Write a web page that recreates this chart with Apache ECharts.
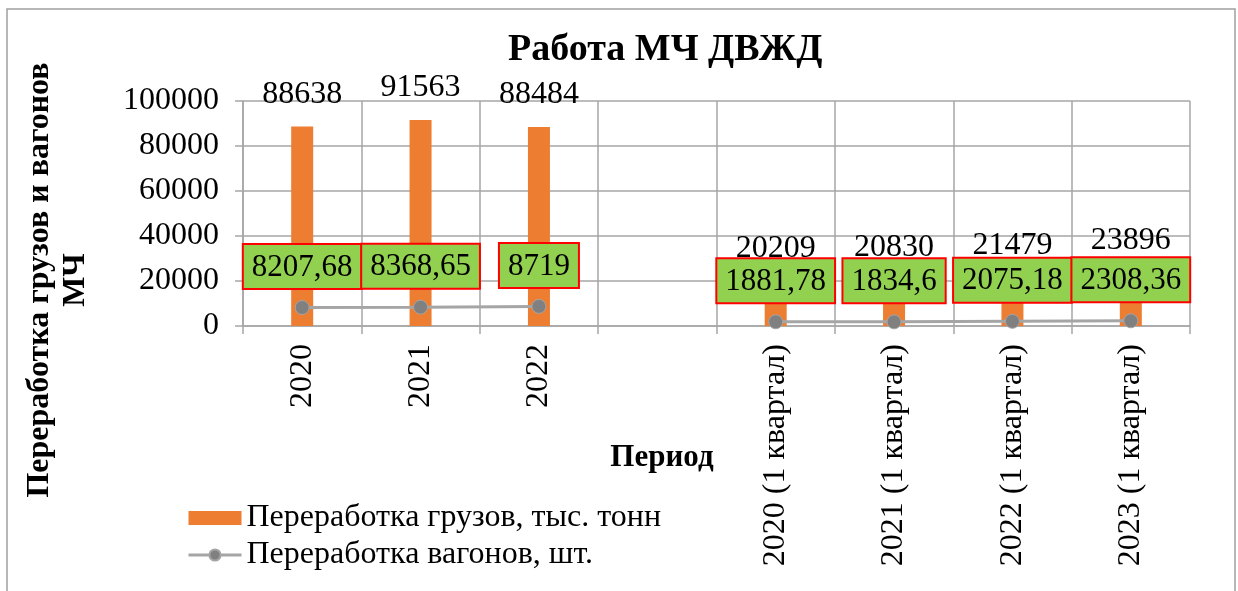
<!DOCTYPE html>
<html>
<head>
<meta charset="utf-8">
<script src="https://cdn.jsdelivr.net/npm/echarts@6/dist/echarts.min.js"></script>
<style>
  html, body { margin: 0; padding: 0; background: #fff; }
  #chart { width: 1238px; height: 591px; }
</style>
</head>
<body>
<div id="chart"></div>
<script>
// данные с графика
var categories = ['2020', '2021', '2022', '', '2020 (1 квартал)', '2021 (1 квартал)', '2022 (1 квартал)', '2023 (1 квартал)'];
var cargo = [88638, 91563, 88484, null, 20209, 20830, 21479, 23896];
var wagons = [8207.68, 8368.65, 8719, null, 1881.78, 1834.6, 2075.18, 2308.36];
var yMin = 0, yMax = 100000, yStep = 20000;

var font = 'Liberation Serif';
var gridColor = '#a6a6a6';

var myChart = echarts.init(document.getElementById('chart'));

var option = {
  backgroundColor: '#fff',
  animation: false,
  title: {
    text: 'Работа МЧ ДВЖД',
    left: 503,
    top: 26,
    textStyle: { fontFamily: font, fontSize: 38, fontWeight: 'bold', color: '#000' }
  },
  legend: {
    orient: 'vertical',
    left: 182,
    top: 497,
    itemWidth: 53,
    itemHeight: 14,
    itemGap: 5,
    textStyle: { fontFamily: font, fontSize: 32, color: '#000', lineHeight: 32 },
    data: [
      { name: 'Переработка грузов, тыс. тонн', icon: 'rect' },
      { name: 'Переработка вагонов, шт.', lineStyle: { width: 3, color: '#a5a5a5' } }
    ]
  },
  grid: { left: 243, right: 48, top: 101, bottom: 265 },
  xAxis: {
    type: 'category',
    data: categories,
    axisLine: { lineStyle: { color: gridColor, width: 1.5 } },
    axisTick: { show: true, length: 8, interval: 0, lineStyle: { color: gridColor, width: 1.5 } },
    splitLine: { show: true, interval: 0, lineStyle: { color: gridColor, width: 1.5 } },
    axisLabel: { interval: 0, rotate: 90, margin: 18, fontFamily: font, fontSize: 32, color: '#000' }
  },
  yAxis: {
    type: 'value',
    min: yMin,
    max: yMax,
    interval: yStep,
    axisLine: { show: true, lineStyle: { color: gridColor, width: 1.5 } },
    axisTick: { show: true, length: 8, lineStyle: { color: gridColor, width: 1.5 } },
    splitLine: { lineStyle: { color: gridColor, width: 1.5 } },
    axisLabel: {
      margin: 24,
      fontFamily: font, fontSize: 32, color: '#000',
      formatter: function (v) { return String(v); }
    }
  },
  graphic: [
    {
      type: 'rect', silent: true, z: -1,
      shape: { x: 7, y: 9, width: 1228, height: 600 },
      style: { fill: 'none', stroke: '#a0a0a0', lineWidth: 1.5 }
    },
    {
      type: 'text', x: 58, y: 280, rotation: Math.PI / 2,
      style: {
        text: 'Переработка грузов и вагонов\nМЧ',
        font: 'bold 32px "Liberation Serif"',
        fill: '#000', align: 'center', verticalAlign: 'middle', lineHeight: 36
      }
    },
    {
      type: 'text', x: 662, y: 458,
      style: {
        text: 'Период',
        font: 'bold 31px "Liberation Serif"',
        fill: '#000', align: 'center', verticalAlign: 'middle'
      }
    }
  ],
  series: [
    {
      name: 'Переработка грузов, тыс. тонн',
      type: 'bar',
      barWidth: 22,
      data: cargo,
      itemStyle: { color: '#ed7d31' },
      label: {
        show: true, position: 'top', distance: 16,
        fontFamily: font, fontSize: 32, color: '#000'
      }
    },
    {
      name: 'Переработка вагонов, шт.',
      type: 'line',
      data: wagons,
      connectNulls: false,
      symbol: 'circle',
      symbolSize: 14,
      lineStyle: { color: '#a5a5a5', width: 3 },
      itemStyle: { color: '#808080', borderColor: '#a5a5a5', borderWidth: 1 },
      label: {
        show: true, position: 'top', distance: 12,
        fontFamily: font, fontSize: 31, color: '#000',
        backgroundColor: '#92d050', borderColor: '#ff0000', borderWidth: 2,
        padding: [7, 8, 5, 8],
        formatter: function (p) { return String(p.value).replace('.', ','); }
      }
    }
  ]
};

myChart.setOption(option);
</script>
</body>
</html>
